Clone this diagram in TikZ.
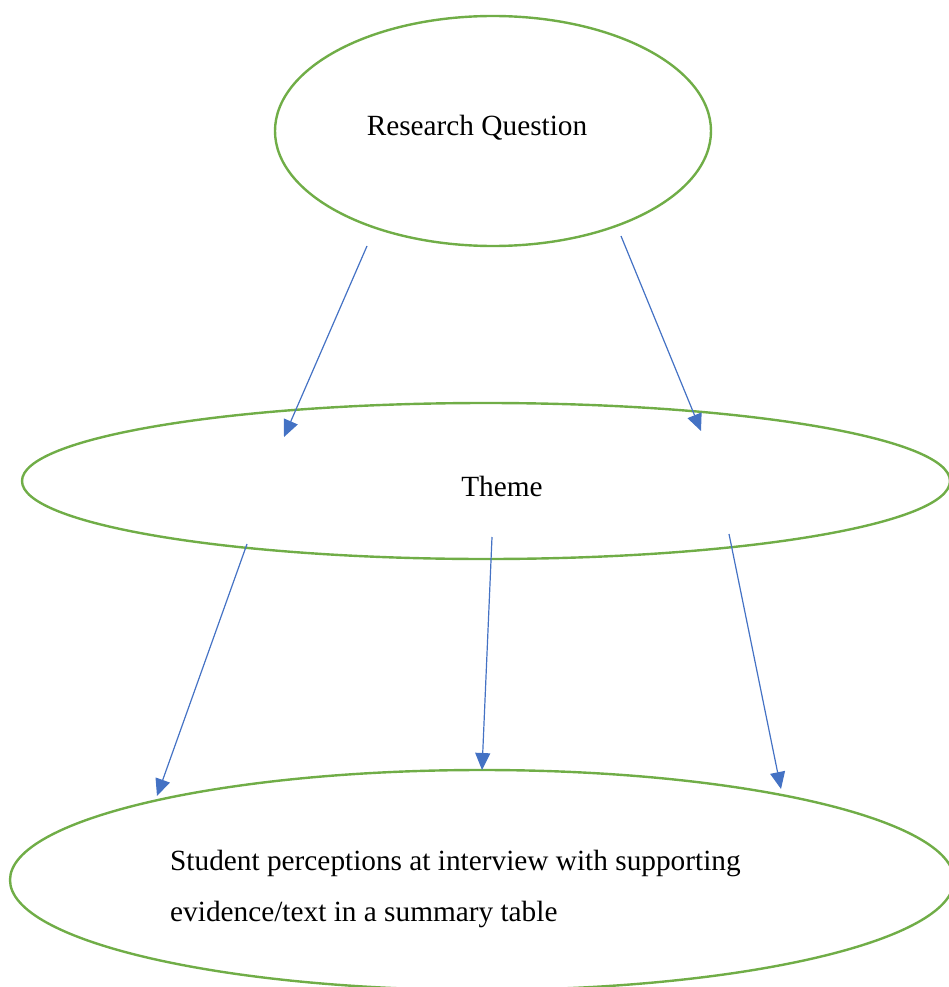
\documentclass[tikz,border=0pt]{standalone}
\usepackage{fontspec}
\setmainfont{Liberation Serif}
\usetikzlibrary{shapes.geometric,arrows.meta}
\definecolor{ovalgreen}{HTML}{70AD47}
\definecolor{linkblue}{HTML}{4472C4}
\tikzset{
  oval/.style={draw=ovalgreen, line width=2.4pt, ellipse, inner sep=0pt},
  label text/.style={font=\fontsize{29.3}{51}\selectfont, inner sep=0pt, text=black},
  link/.style={draw=linkblue, line width=1.2pt, -{Triangle[length=17pt,width=15pt]}}
}
\begin{document}
\begin{tikzpicture}[x=1pt,y=-1pt]
  \useasboundingbox (0,0) rectangle (948,987);

  % the three ovals
  \node[oval, minimum width=436pt, minimum height=230pt] (rq) at (493,131) {};
  \node[oval, minimum width=928pt, minimum height=156pt] (theme) at (486,481) {};
  \node[oval, minimum width=944pt, minimum height=220pt] (student) at (482,880) {};

  % their texts
  \node[label text] (rqtext) at (477,128) {Research Question};
  \node[label text] (themetext) at (502,486) {Theme};
  \node[label text, anchor=west, align=left] (studenttext) at (170,889)
    {Student perceptions at interview with supporting\\evidence/text in a summary table};

  % connector ends
  \coordinate (rqL) at (367,246);
  \coordinate (rqR) at (621,236);
  \coordinate (thL) at (284,437);
  \coordinate (thR) at (701,431);
  \coordinate (thA) at (247,544);
  \coordinate (thB) at (492,537);
  \coordinate (thC) at (729,534);
  \coordinate (stA) at (157,796);
  \coordinate (stB) at (482,770);
  \coordinate (stC) at (781,789);

  \draw[link] (rqL) -- (thL);
  \draw[link] (rqR) -- (thR);
  \draw[link] (thA) -- (stA);
  \draw[link] (thB) -- (stB);
  \draw[link] (thC) -- (stC);
\end{tikzpicture}
\end{document}
